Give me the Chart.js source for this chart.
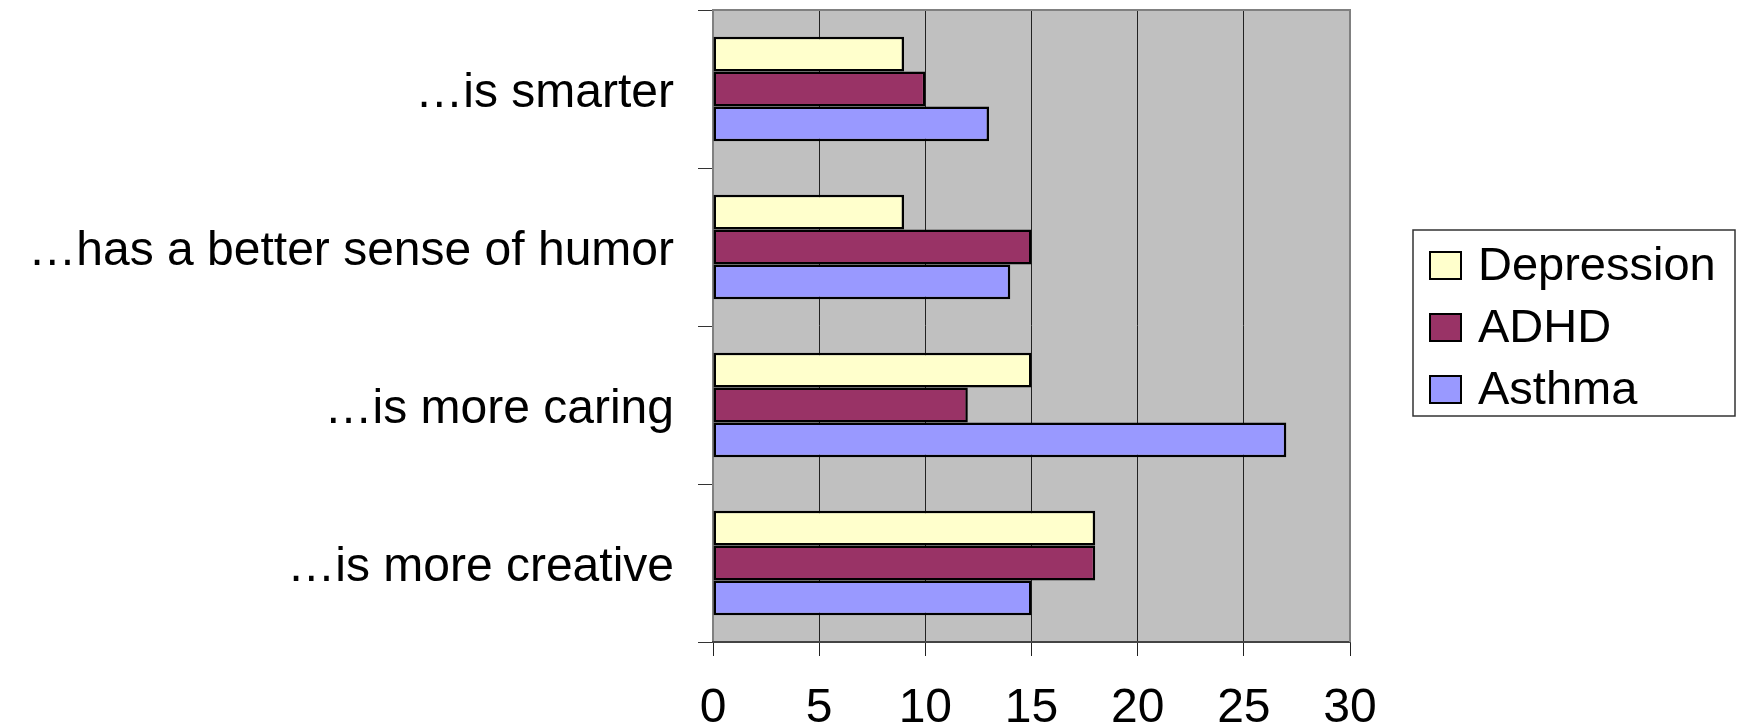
<!DOCTYPE html>
<html lang="en">
<head>
    <meta charset="UTF-8">
    <title>Bar chart</title>
    <script src="https://cdn.jsdelivr.net/npm/chart.js"></script>
    <style>
        html, body { margin: 0; padding: 0; background: #fff; }
        canvas { display: block; }
    </style>
</head>
<body>
    <canvas id="chart" width="1743" height="725"></canvas>

    <script>
        // data
        const categories = ['…is smarter', '…has a better sense of humor', '…is more caring', '…is more creative'];
        const depression = [9, 9, 15, 18];
        const adhd = [10, 15, 12, 18];
        const asthma = [13, 14, 27, 15];
        const seriesNames = ['Depression', 'ADHD', 'Asthma'];
        const seriesColors = ['#FFFFCC', '#993366', '#9999FF'];
        const xMin = 0, xMax = 30, xStep = 5;

        const FONT = '"Liberation Sans", Arial, sans-serif';

        // grey plot background + top/right frame
        const plotFrame = {
            id: 'plotFrame',
            beforeDraw(chart) {
                const a = chart.chartArea, ctx = chart.ctx;
                ctx.save();
                ctx.fillStyle = '#C0C0C0';
                ctx.fillRect(a.left, a.top, a.right - a.left, a.bottom - a.top);
                ctx.restore();
            },
            afterDraw(chart) {
                const a = chart.chartArea, ctx = chart.ctx;
                ctx.save();
                ctx.strokeStyle = '#808080';
                ctx.lineWidth = 2;
                ctx.beginPath();
                ctx.moveTo(a.left, a.top);
                ctx.lineTo(a.right, a.top);
                ctx.lineTo(a.right, a.bottom);
                ctx.stroke();
                ctx.restore();
            }
        };

        // boxed legend on the right
        const boxLegend = {
            id: 'boxLegend',
            afterDraw(chart) {
                const ctx = chart.ctx;
                const x = 1413, y = 230, w = 322, h = 186;
                ctx.save();
                ctx.fillStyle = '#fff';
                ctx.fillRect(x, y, w, h);
                ctx.strokeStyle = '#333';
                ctx.lineWidth = 1.5;
                ctx.strokeRect(x, y, w, h);
                ctx.font = '47px ' + FONT;
                ctx.textBaseline = 'middle';
                chart.data.datasets.forEach((ds, i) => {
                    const cy = 266 + i * 62;
                    ctx.fillStyle = ds.backgroundColor;
                    ctx.fillRect(1430, cy - 14, 31, 27);
                    ctx.strokeStyle = '#000';
                    ctx.lineWidth = 2;
                    ctx.strokeRect(1430, cy - 14, 31, 27);
                    ctx.fillStyle = '#000';
                    ctx.fillText(ds.label, 1478, cy + 1);
                });
                ctx.restore();
            }
        };

        const ctx = document.getElementById('chart').getContext('2d');
        new Chart(ctx, {
            type: 'bar',
            data: {
                labels: categories,
                datasets: [depression, adhd, asthma].map((vals, i) => ({
                    label: seriesNames[i],
                    data: vals,
                    backgroundColor: seriesColors[i],
                    borderColor: '#000',
                    borderWidth: 2.5,
                    borderSkipped: false,
                    categoryPercentage: 0.66,
                    barPercentage: 1.0
                }))
            },
            options: {
                indexAxis: 'y',
                responsive: false,
                animation: false,
                layout: {
                    padding: { top: 10, right: 393, left: 0, bottom: 0 }
                },
                plugins: {
                    legend: { display: false },
                    tooltip: { enabled: false }
                },
                scales: {
                    y: {
                        position: 'left',
                        afterFit: s => {
                            s.width = 713;
                            s.paddingTop = 0;
                            s.paddingBottom = 0;
                        },
                        grid: {
                            offset: true,
                            drawOnChartArea: false,
                            tickLength: 15,
                            color: '#333',
                            lineWidth: 1
                        },
                        border: { color: '#808080', width: 2 },
                        ticks: {
                            color: '#000',
                            padding: 24,
                            labelOffset: 5,
                            font: { size: 48, family: FONT }
                        }
                    },
                    x: {
                        min: xMin,
                        max: xMax,
                        afterFit: s => { s.height = 83; },
                        grid: {
                            color: '#222',
                            lineWidth: 1,
                            tickLength: 14
                        },
                        border: { color: '#444', width: 2 },
                        ticks: {
                            stepSize: xStep,
                            color: '#000',
                            padding: 24,
                            maxRotation: 0,
                            font: { size: 48, family: FONT }
                        }
                    }
                }
            },
            plugins: [plotFrame, boxLegend]
        });
    </script>
</body>
</html>
